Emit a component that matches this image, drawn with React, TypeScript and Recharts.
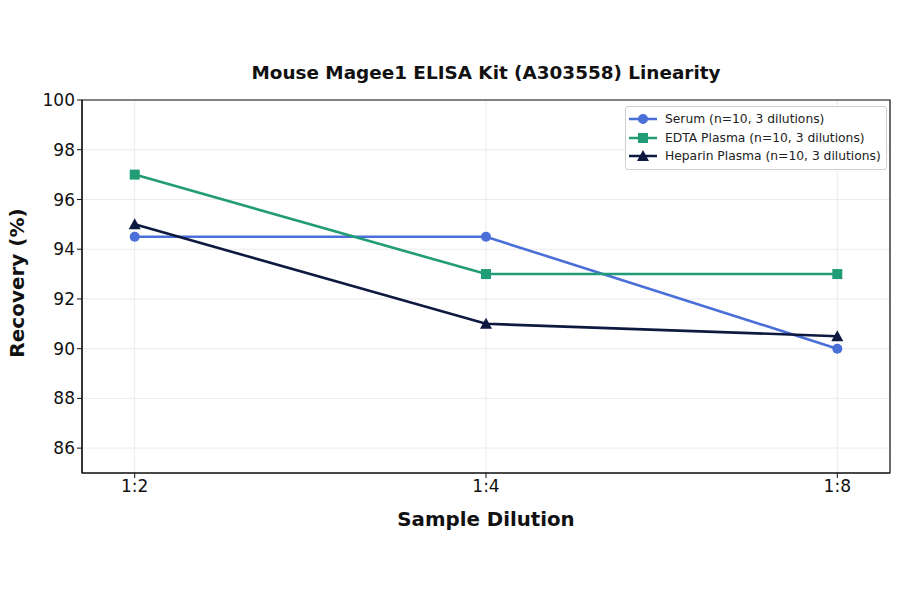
import React from 'react'
import {
  LineChart,
  Line,
  XAxis,
  YAxis,
  CartesianGrid,
  ReferenceArea,
} from 'recharts'

const dilutions = ['1:2', '1:4', '1:8']
const serum = [94.5, 94.5, 90]
const edtaPlasma = [97, 93, 93]
const heparinPlasma = [95, 91, 90.5]
const yTicks = [86, 88, 90, 92, 94, 96, 98, 100]

const SERIES = [
  { key: 'serum', name: 'Serum (n=10, 3 dilutions)', color: '#4a6fd8', shape: 'circle' },
  { key: 'edta', name: 'EDTA Plasma (n=10, 3 dilutions)', color: '#219c76', shape: 'square' },
  { key: 'heparin', name: 'Heparin Plasma (n=10, 3 dilutions)', color: '#0e1940', shape: 'triangle' },
]

const data = dilutions.map((d, i) => ({
  x: i,
  serum: serum[i],
  edta: edtaPlasma[i],
  heparin: heparinPlasma[i],
}))

const FONT = '"DejaVu Sans", sans-serif'
const X_DOMAIN = [-0.15, 2.15]
const Y_DOMAIN = [85, 100]

function Marker({ shape, color, cx, cy }: { shape: string; color: string; cx: number; cy: number }) {
  if (shape === 'square') {
    return <rect x={cx - 5} y={cy - 5} width={10} height={10} fill={color} />
  }
  if (shape === 'triangle') {
    return <polygon points={`${cx},${cy - 6} ${cx - 6},${cy + 5} ${cx + 6},${cy + 5}`} fill={color} />
  }
  return <circle cx={cx} cy={cy} r={5} fill={color} />
}

function makeDot(shape: string, color: string) {
  return (props: any) => {
    const { cx, cy, index } = props
    if (cx == null || cy == null) return <g key={index} />
    return <Marker key={index} shape={shape} color={color} cx={cx} cy={cy} />
  }
}

function LegendBox() {
  return (
    <div
      style={{
        position: 'absolute',
        top: 106,
        left: 625,
        boxSizing: 'border-box',
        border: '1px solid #d0d0d0',
        borderRadius: 3,
        background: 'rgba(255,255,255,0.9)',
        padding: '3px 5px 3px 3px',
        fontFamily: FONT,
        fontSize: 12.3,
        color: '#222',
        whiteSpace: 'nowrap',
      }}
    >
      {SERIES.map(s => (
        <div key={s.key} style={{ display: 'flex', alignItems: 'center', height: 18.5 }}>
          <svg width={28} height={14} style={{ marginRight: 8, flexShrink: 0 }}>
            <line x1={0} y1={7} x2={28} y2={7} stroke={s.color} strokeWidth={2.5} />
            <Marker shape={s.shape} color={s.color} cx={14} cy={7} />
          </svg>
          <span>{s.name}</span>
        </div>
      ))}
    </div>
  )
}

export default function App() {
  return (
    <div style={{ position: 'absolute', left: 0, top: 0, width: 900, height: 594, background: '#fff' }}>
      <LineChart
        width={900}
        height={594}
        data={data}
        margin={{ top: 100, right: 10, bottom: 91, left: 42 }}
      >
        <CartesianGrid stroke="#e6e6e6" strokeWidth={0.8} />
        <XAxis
          dataKey="x"
          type="number"
          domain={X_DOMAIN}
          ticks={[0, 1, 2]}
          tickFormatter={(v: number) => dilutions[v]}
          height={30}
          axisLine={{ stroke: '#111', strokeWidth: 1.2 }}
          tickLine={{ stroke: '#111' }}
          tickSize={5}
          tick={{ fill: '#111', fontSize: 17, fontFamily: FONT }}
        />
        <YAxis
          domain={Y_DOMAIN}
          ticks={yTicks}
          width={40}
          axisLine={{ stroke: '#111', strokeWidth: 1.2 }}
          tickLine={{ stroke: '#111' }}
          tickSize={5}
          tick={{ fill: '#111', fontSize: 17, fontFamily: FONT }}
          allowDataOverflow
        />
        <ReferenceArea
          x1={X_DOMAIN[0]}
          x2={X_DOMAIN[1]}
          y1={Y_DOMAIN[0]}
          y2={Y_DOMAIN[1]}
          fill="none"
          fillOpacity={0}
          stroke="#111"
          strokeWidth={1.2}
        />
        {SERIES.map(s => (
          <Line
            key={s.key}
            dataKey={s.key}
            name={s.name}
            stroke={s.color}
            strokeWidth={2.6}
            dot={makeDot(s.shape, s.color)}
            activeDot={false}
            isAnimationActive={false}
          />
        ))}
        <text x={486} y={79} textAnchor="middle" fontFamily={FONT} fontWeight="bold" fontSize={18.4} fill="#111">
          Mouse Magee1 ELISA Kit (A303558) Linearity
        </text>
        <text x={486} y={526} textAnchor="middle" fontFamily={FONT} fontWeight="bold" fontSize={19.8} fill="#111">
          Sample Dilution
        </text>
        <text
          x={24}
          y={283}
          textAnchor="middle"
          fontFamily={FONT}
          fontWeight="bold"
          fontSize={20}
          fill="#111"
          transform="rotate(-90 24 283)"
        >
          Recovery (%)
        </text>
      </LineChart>
      <LegendBox />
    </div>
  )
}
